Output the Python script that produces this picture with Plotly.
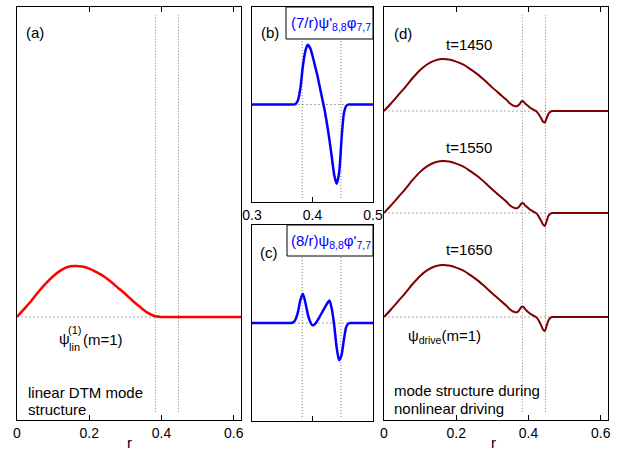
import plotly.graph_objects as go

# ---------------- data ----------------
r_a = [0, 0.02, 0.04, 0.06, 0.08, 0.10, 0.12, 0.14, 0.16, 0.18, 0.20, 0.22, 0.24,
       0.26, 0.28, 0.30, 0.32, 0.34, 0.36, 0.38, 0.40, 0.42, 0.50, 0.62]
psi_lin = [0, 0.16, 0.32, 0.50, 0.66, 0.80, 0.91, 0.98, 1.00, 0.99, 0.95, 0.88, 0.80,
           0.69, 0.57, 0.45, 0.32, 0.20, 0.09, 0.02, 0.0, 0.0, 0.0, 0.0]

r_bc = [0.30, 0.34, 0.360, 0.364, 0.368, 0.372, 0.376, 0.380, 0.384, 0.388, 0.392, 0.396,
        0.400, 0.404, 0.408, 0.412, 0.416, 0.420, 0.424, 0.428, 0.432, 0.436, 0.440,
        0.444, 0.448, 0.452, 0.456, 0.460, 0.464, 0.47, 0.50]
term_b = [0, 0, 0, 0, 0, 0.01, 0.07, 0.27, 0.62, 0.87, 0.98, 0.93,
          0.80, 0.64, 0.48, 0.29, 0.10, -0.09, -0.32, -0.58, -0.87, -1.16, -1.30,
          -1.12, -0.57, -0.14, -0.02, 0, 0, 0, 0]
term_c = [0, 0, 0, 0, 0.02, 0.12, 0.38, 0.79, 1.00, 0.72, 0.32, 0.05,
          -0.08, -0.04, 0.08, 0.22, 0.37, 0.52, 0.66, 0.77, 0.47, -0.10, -0.85,
          -1.27, -1.10, -0.55, -0.12, -0.01, 0, 0, 0]

r_d = [0, 0.02, 0.04, 0.06, 0.08, 0.10, 0.12, 0.14, 0.16, 0.18, 0.20, 0.22, 0.24,
       0.26, 0.28, 0.30, 0.32, 0.34, 0.345, 0.35, 0.355, 0.36, 0.365, 0.37, 0.375,
       0.38, 0.385, 0.39, 0.395, 0.40, 0.405, 0.41, 0.415, 0.42, 0.425, 0.43, 0.435,
       0.44, 0.445, 0.45, 0.455, 0.46, 0.465, 0.47, 0.50, 0.62]
psi_t1450 = [0, 0.15, 0.31, 0.47, 0.64, 0.79, 0.90, 0.97, 1.00, 0.99, 0.95, 0.89, 0.80,
             0.70, 0.58, 0.45, 0.33, 0.21, 0.17, 0.14, 0.115, 0.10, 0.09, 0.10, 0.13,
             0.18, 0.19, 0.15, 0.12, 0.09, 0.06, 0.04, 0.02, 0.0, -0.03, -0.08, -0.14,
             -0.20, -0.22, -0.14, -0.06, -0.02, 0, 0, 0, 0]
psi_t1550 = [0, 0.15, 0.31, 0.47, 0.64, 0.79, 0.90, 0.97, 1.00, 0.99, 0.95, 0.89, 0.80,
             0.70, 0.58, 0.45, 0.33, 0.21, 0.17, 0.14, 0.115, 0.10, 0.09, 0.10, 0.13,
             0.18, 0.19, 0.15, 0.12, 0.09, 0.06, 0.04, 0.02, 0.0, -0.03, -0.09, -0.15,
             -0.22, -0.25, -0.16, -0.06, -0.02, 0, 0, 0, 0]
psi_t1650 = [0, 0.15, 0.31, 0.47, 0.64, 0.79, 0.90, 0.97, 1.00, 0.99, 0.95, 0.89, 0.80,
             0.70, 0.58, 0.45, 0.33, 0.21, 0.17, 0.14, 0.115, 0.10, 0.09, 0.10, 0.14,
             0.19, 0.20, 0.16, 0.12, 0.09, 0.06, 0.04, 0.02, 0.0, -0.03, -0.09, -0.16,
             -0.24, -0.27, -0.17, -0.07, -0.02, 0, 0, 0, 0]
times = ["t=1450", "t=1550", "t=1650"]
offsets_d = [3.96, 2.0, 0.0]

q_surfaces = [0.383, 0.447]
ticks_full = [0, 0.2, 0.4, 0.6]
ticks_bc = [0.3, 0.4, 0.5]

# ---------------- layout helpers ----------------
W, H = 628, 450
FONT = "Arial, Liberation Sans, sans-serif"


def fx(x):
    return x / W


def fy(y):
    return 1 - y / H


fig = go.Figure()

fig.add_trace(go.Scatter(x=r_a, y=psi_lin, mode="lines", xaxis="x", yaxis="y",
                         line=dict(color="#ff0000", width=2.5, shape="spline", smoothing=0.8),
                         showlegend=False))
fig.add_trace(go.Scatter(x=r_bc, y=term_b, mode="lines", xaxis="x2", yaxis="y2",
                         line=dict(color="#0000ff", width=2.5, shape="spline", smoothing=0.7),
                         showlegend=False))
fig.add_trace(go.Scatter(x=r_bc, y=term_c, mode="lines", xaxis="x3", yaxis="y3",
                         line=dict(color="#0000ff", width=2.5, shape="spline", smoothing=0.7),
                         showlegend=False))
for vals, off in zip([psi_t1450, psi_t1550, psi_t1650], offsets_d):
    fig.add_trace(go.Scatter(x=r_d, y=[v + off for v in vals], mode="lines",
                             xaxis="x4", yaxis="y4",
                             line=dict(color="#800000", width=2, shape="spline", smoothing=0.7),
                             showlegend=False))

ydom_full = [fy(420), fy(7)]
ydom_b = [fy(202), fy(7)]
ydom_c = [fy(421), fy(225)]
xdom_a = [fx(17), fx(241)]
xdom_bc = [fx(252), fx(373)]
xdom_d = [fx(384), fx(608)]

common_x = dict(showgrid=False, zeroline=False, showline=True, linecolor="black",
                linewidth=1, mirror="allticks", ticks="inside", ticklen=5,
                tickcolor="black", automargin=False,
                tickfont=dict(family=FONT, size=14, color="black"))
common_y = dict(showgrid=False, zeroline=False, showline=True, linecolor="black",
                linewidth=1, mirror=True, ticks="", showticklabels=False,
                automargin=False)

fig.update_layout(
    width=W, height=H, margin=dict(l=0, r=0, t=0, b=0, pad=0, autoexpand=False),
    paper_bgcolor="white", plot_bgcolor="white",
    xaxis=dict(domain=xdom_a, range=[0, 0.62], tickvals=ticks_full,
               ticktext=["0", "0.2", "0.4", "0.6"], anchor="y", **common_x),
    yaxis=dict(domain=ydom_full, range=[-2.02, 6.08], anchor="x", **common_y),
    xaxis2=dict(domain=xdom_bc, range=[0.3, 0.5], tickvals=ticks_bc,
                ticktext=["0.3", "0.4", "0.5"], anchor="y2", **common_x),
    yaxis2=dict(domain=ydom_b, range=[-1.6, 1.6], anchor="x2", **common_y),
    xaxis3=dict(domain=xdom_bc, range=[0.3, 0.5], tickvals=[0.4],
                showticklabels=False, anchor="y3", **common_x),
    yaxis3=dict(domain=ydom_c, range=[-3.35, 3.35], anchor="x3", **common_y),
    xaxis4=dict(domain=xdom_d, range=[0, 0.62], tickvals=ticks_full,
                ticktext=["0", "0.2", "0.4", "0.6"], anchor="y4", **common_x),
    yaxis4=dict(domain=ydom_full, range=[-1.98, 5.96], anchor="x4", **common_y),
)

shapes = []
dot_v = dict(color="#777777", width=1, dash="1px,2px")
dot_h = dict(color="#555555", width=1, dash="1px,3px")
for xa, ya in [("x", "y"), ("x2", "y2"), ("x3", "y3"), ("x4", "y4")]:
    for q in q_surfaces:
        shapes.append(dict(type="line", xref=xa, yref=ya + " domain", x0=q, x1=q,
                           y0=0.02, y1=0.98, line=dot_v, layer="below"))
for xa, ya, y0 in [("x", "y", 0), ("x2", "y2", 0), ("x3", "y3", 0)] + \
        [("x4", "y4", o) for o in offsets_d]:
    shapes.append(dict(type="line", xref=xa + " domain", yref=ya, x0=0.02, x1=1,
                       y0=y0, y1=y0, line=dot_h, layer="below"))
shapes.append(dict(type="rect", xref="paper", yref="paper", x0=fx(286), x1=fx(373),
                   y0=fy(39), y1=fy(7), line=dict(color="black", width=1),
                   fillcolor="white", layer="above"))
shapes.append(dict(type="rect", xref="paper", yref="paper", x0=fx(287), x1=fx(373),
                   y0=fy(256), y1=fy(225), line=dict(color="black", width=1),
                   fillcolor="white", layer="above"))
fig.update_layout(shapes=shapes)

ann = []


def label(text, x, y, size=15, color="black", xanchor="center"):
    ann.append(dict(text=text, x=fx(x), y=fy(y), xref="paper", yref="paper",
                    xanchor=xanchor, yanchor="middle", showarrow=False,
                    font=dict(family=FONT, size=size, color=color)))


label("(a)", 35, 32)
label("(b)", 270, 32)
label("(c)", 269, 252)
label("(d)", 403, 33)
label("(7/r)ψ'<sub>8,8</sub>φ<sub>7,7</sub>", 331, 23, size=15, color="#0000ff")
label("(8/r)ψ<sub>8,8</sub>φ'<sub>7,7</sub>", 331, 241, size=15, color="#0000ff")
for t, yy in zip(times, [45, 147, 249]):
    label(t, 469, yy)
label("ψ", 57, 338, xanchor="left")
label("(1)", 66, 330, size=11, xanchor="left")
label("lin", 67, 347, size=11, xanchor="left")
label("(m=1)", 81, 339, xanchor="left")
label("ψ<sub>drive</sub>(m=1)", 406, 336, xanchor="left")
label("linear DTM mode", 26, 392, xanchor="left")
label("structure", 26, 409, xanchor="left")
label("mode structure during", 392, 390, xanchor="left")
label("nonlinear driving", 392, 408, xanchor="left")
label("r", 129, 442)
label("r", 493, 442)
fig.update_layout(annotations=ann)

fig.write_html("out.html")
